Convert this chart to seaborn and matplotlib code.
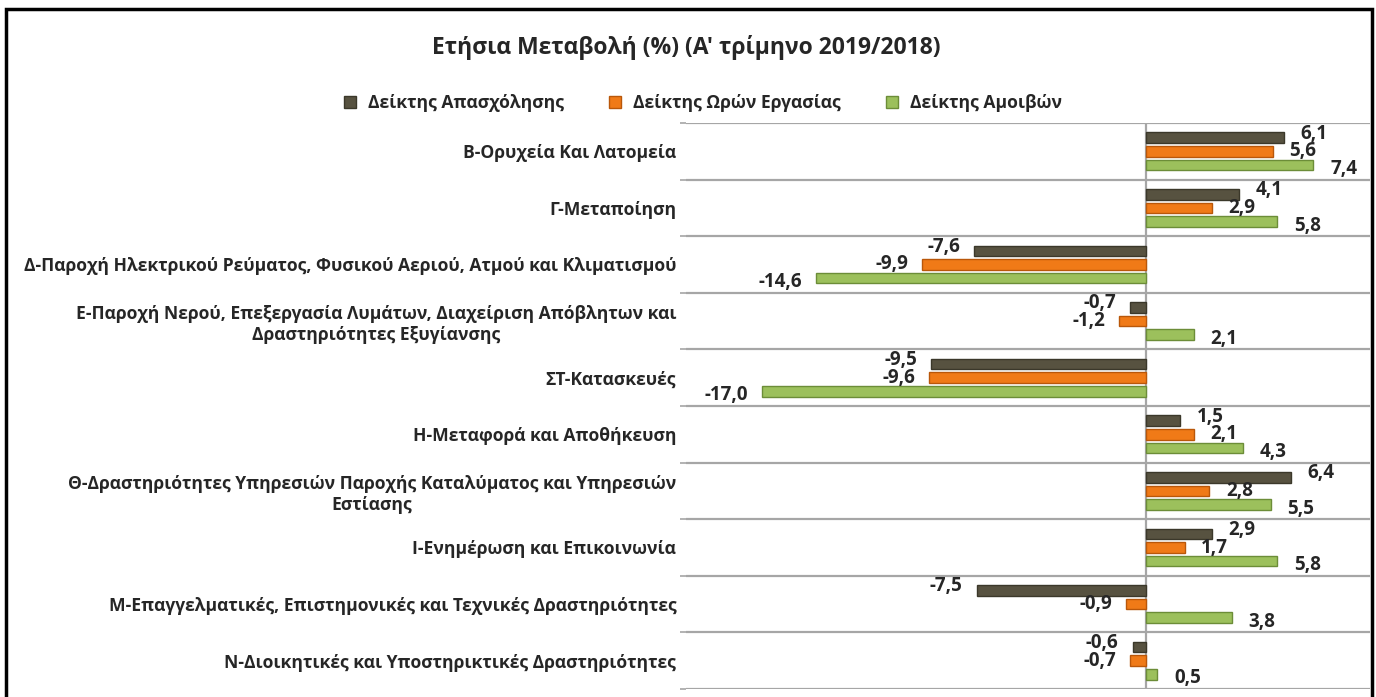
import matplotlib
matplotlib.use("Agg")
import matplotlib.pyplot as plt
import seaborn as sns
import pandas as pd
from matplotlib.patches import Rectangle
from matplotlib.lines import Line2D

categories = [
    "Β-Ορυχεία Και Λατομεία",
    "Γ-Μεταποίηση",
    "Δ-Παροχή Ηλεκτρικού Ρεύματος, Φυσικού Αεριού, Ατμού και Κλιματισμού",
    "Ε-Παροχή Νερού, Επεξεργασία Λυμάτων, Διαχείριση Απόβλητων και\nΔραστηριότητες Εξυγίανσης",
    "ΣΤ-Κατασκευές",
    "Η-Μεταφορά και Αποθήκευση",
    "Θ-Δραστηριότητες Υπηρεσιών Παροχής Καταλύματος και Υπηρεσιών\nΕστίασης",
    "Ι-Ενημέρωση και Επικοινωνία",
    "Μ-Επαγγελματικές, Επιστημονικές και Τεχνικές Δραστηριότητες",
    "Ν-Διοικητικές και Υποστηρικτικές Δραστηριότητες",
]
series_names = ["Δείκτης Απασχόλησης", "Δείκτης Ωρών Εργασίας", "Δείκτης Αμοιβών"]
employment = [6.1, 4.1, -7.6, -0.7, -9.5, 1.5, 6.4, 2.9, -7.5, -0.6]
hours = [5.6, 2.9, -9.9, -1.2, -9.6, 2.1, 2.8, 1.7, -0.9, -0.7]
wages = [7.4, 5.8, -14.6, 2.1, -17.0, 4.3, 5.5, 5.8, 3.8, 0.5]

colors = ["#575240", "#f07a17", "#9cc05c"]
edges = ["#3b382a", "#b9570a", "#6c8d38"]

rows = []
for name, vals in zip(series_names, [employment, hours, wages]):
    for cat, v in zip(categories, vals):
        rows.append({"cat": cat, "series": name, "value": v})
df = pd.DataFrame(rows)

sns.set_theme(style="white")
plt.rcParams["font.family"] = ["Open Sans", "DejaVu Sans"]
plt.rcParams["font.weight"] = "bold"

fig = plt.figure(figsize=(13.76, 6.97), dpi=100)
ax = fig.add_axes([686 / 1376, 1 - 689 / 697, (1370 - 686) / 1376, (689 - 123) / 697])

sns.barplot(data=df, y="cat", x="value", hue="series", order=categories,
            hue_order=series_names, palette=colors, orient="h",
            width=0.72, gap=0.22, ax=ax, legend=False, saturation=1)

# edge colours per series
n = len(categories)
for i, p in enumerate(ax.patches[:3 * n]):
    p.set_edgecolor(edges[i // n])
    p.set_linewidth(1.0)

ax.set_xlim(-20.35, 9.9)
ax.set_ylim(n - 0.5, -0.5)
ax.set_xlabel("")
ax.set_ylabel("")
ax.set_xticks([])

for s in ax.spines.values():
    s.set_visible(False)

# category separators
for b in range(n + 1):
    ax.axhline(b - 0.5, color="#a6a6a6", lw=1.6, zorder=0)
ax.axvline(0, color="#a6a6a6", lw=1.6, zorder=0)

ax.set_yticks(range(n))
ax.set_yticklabels(categories, fontsize=12.6, fontweight="bold")
for t in ax.get_yticklabels():
    t.set_multialignment("center")
ax.set_yticks([b - 0.5 for b in range(n + 1)], minor=True)
ax.tick_params(axis="y", which="major", length=0, pad=7)
ax.tick_params(axis="y", which="minor", length=4, color="#a6a6a6", width=1.2, left=True)

# data labels
nudge = [3, 0, -3]
for i, p in enumerate(ax.patches[:3 * n]):
    v = [employment, hours, wages][i // n][i % n]
    y = p.get_y() + p.get_height() / 2
    txt = f"{v:.1f}".replace(".", ",")
    if v >= 0:
        ax.annotate(txt, (v, y), xytext=(12, nudge[i // n]), textcoords="offset points",
                    ha="left", va="center", fontsize=13.5, fontweight="bold")
    else:
        ax.annotate(txt, (v, y), xytext=(-10, nudge[i // n]), textcoords="offset points",
                    ha="right", va="center", fontsize=13.5, fontweight="bold")

fig.text(686 / 1376, 1 - 48 / 697, "Ετήσια Μεταβολή (%) (Α' τρίμηνο 2019/2018)",
         ha="center", va="center", fontsize=16.5, fontweight="bold")

handles = [Line2D([], [], marker="s", linestyle="none", markersize=8.5,
                  markerfacecolor=c, markeredgecolor=e) for c, e in zip(colors, edges)]
fig.legend(handles, series_names, loc="center", bbox_to_anchor=(697 / 1376, 1 - 103 / 697),
           ncol=3, frameon=False, handletextpad=0.05, columnspacing=1.9,
           prop={"weight": "bold", "size": 12.6})

fig.patches.append(Rectangle((6 / 1376, -0.05), (1372 - 6) / 1376, 1.05 - 9 / 697,
                             transform=fig.transFigure, fill=False, edgecolor="black",
                             lw=2.5, zorder=10))

fig.savefig("out.png", dpi=100, facecolor="white")
